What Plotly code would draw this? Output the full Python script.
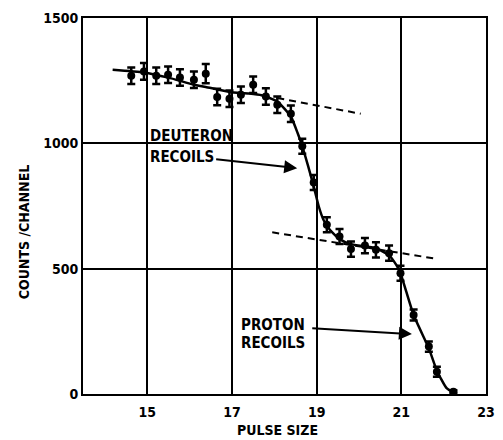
import plotly.graph_objects as go

# Measured counts per channel with statistical errors
pulse_size = [14.62, 14.92, 15.21, 15.49, 15.77, 16.10, 16.38, 16.65, 16.94, 17.21,
              17.50, 17.80, 18.07, 18.39, 18.66, 18.93, 19.24, 19.54, 19.81, 20.14,
              20.40, 20.71, 20.98, 21.29, 21.65, 21.84, 22.23]
counts = [1270, 1287, 1270, 1274, 1263, 1254, 1278, 1185, 1178, 1194,
          1234, 1187, 1154, 1118, 988, 844, 675, 628, 578, 592,
          575, 562, 482, 315, 189, 89, 9]
count_err = [33, 33, 33, 33, 33, 33, 38, 33, 33, 33,
             33, 33, 33, 33, 30, 30, 30, 30, 30, 30,
             30, 30, 30, 22, 20, 20, 6]

# Smooth hand-drawn fit through the spectrum
fit_x = [14.18, 14.92, 15.5, 16.10, 16.38, 16.94, 17.4, 17.7, 18.07, 18.39, 18.55,
         18.66, 18.80, 18.93, 19.05, 19.16, 19.31, 19.54, 19.81, 20.39, 20.70,
         20.88, 20.98, 21.29, 21.65, 21.84, 22.07, 22.26]
fit_y = [1294, 1283, 1262, 1234, 1225, 1205, 1199, 1192, 1167, 1107, 1041,
         988, 908, 828, 748, 695, 655, 618, 598, 582, 555,
         515, 482, 315, 182, 93, 23, 3]

# Extrapolated plateau levels (dashed)
deut_plateau_x = [18.07, 20.04]
deut_plateau_y = [1181, 1118]
prot_plateau_x = [17.95, 21.84]
prot_plateau_y = [645, 539]

x_ticks = [15, 17, 19, 21, 23]
y_ticks = [0, 500, 1000, 1500]

FONT = "DejaVu Sans Condensed"
INK = "black"

def bold(s):
    return f"<b>{s}</b>"

fig = go.Figure()

fig.add_trace(go.Scatter(
    x=fit_x, y=fit_y, mode="lines",
    line=dict(color=INK, width=2.5, shape="spline", smoothing=0.5),
    hoverinfo="skip", showlegend=False))

for px, py in [(deut_plateau_x, deut_plateau_y), (prot_plateau_x, prot_plateau_y)]:
    fig.add_trace(go.Scatter(
        x=px, y=py, mode="lines",
        line=dict(color=INK, width=2, dash="7px,5px"),
        hoverinfo="skip", showlegend=False))

fig.add_trace(go.Scatter(
    x=pulse_size, y=counts, mode="markers",
    marker=dict(color=INK, size=8, symbol="circle"),
    error_y=dict(type="data", array=count_err, color=INK, thickness=2.5, width=4),
    showlegend=False))

# Labels with arrows
label_font = dict(family=FONT, size=15, color=INK)
fig.add_annotation(x=15.02, y=1029, text=bold("DEUTERON"), showarrow=False,
                   xanchor="left", yanchor="middle", font=label_font)
fig.add_annotation(x=15.02, y=945, text=bold("RECOILS"), showarrow=False,
                   xanchor="left", yanchor="middle", font=label_font)
fig.add_annotation(x=18.54, y=901, ax=16.59, ay=937, axref="x", ayref="y",
                   text="", showarrow=True, arrowhead=2, arrowsize=1.3,
                   arrowwidth=2, arrowcolor=INK)

fig.add_annotation(x=17.16, y=275, text=bold("PROTON"), showarrow=False,
                   xanchor="left", yanchor="middle", font=label_font)
fig.add_annotation(x=17.16, y=203, text=bold("RECOILS"), showarrow=False,
                   xanchor="left", yanchor="middle", font=label_font)
fig.add_annotation(x=21.25, y=239, ax=18.86, ay=263, axref="x", ayref="y",
                   text="", showarrow=True, arrowhead=2, arrowsize=1.3,
                   arrowwidth=2, arrowcolor=INK)

# Axis titles
title_font = dict(family=FONT, size=14, color=INK)
fig.add_annotation(xref="paper", yref="paper", x=(282 - 83) / 412, y=-36 / 376,
                   text=bold("PULSE SIZE"), showarrow=False, yanchor="middle",
                   font=title_font)
fig.add_annotation(xref="paper", yref="paper", x=-60 / 412, y=(394 - 232) / 376,
                   text=bold("COUNTS /CHANNEL"), textangle=-90, showarrow=False,
                   xanchor="center", yanchor="middle", font=title_font)

tick_font = dict(family=FONT, size=14, color=INK)
fig.update_xaxes(range=[13.48, 23], tickvals=x_ticks, ticktext=[bold(v) for v in x_ticks],
                 showgrid=True, gridcolor=INK, gridwidth=1.5,
                 showline=True, linecolor=INK, linewidth=2, mirror=True,
                 ticks="", zeroline=False, ticklabelstandoff=4, tickfont=tick_font)
fig.update_yaxes(range=[0, 1500], tickvals=y_ticks, ticktext=[bold(v) for v in y_ticks],
                 showgrid=True, gridcolor=INK, gridwidth=1.5,
                 showline=True, linecolor=INK, linewidth=2, mirror=True,
                 ticks="", zeroline=False, tickfont=tick_font)

fig.update_layout(width=503, height=440,
                  margin=dict(l=83, r=8, t=18, b=46),
                  paper_bgcolor="white", plot_bgcolor="white")

fig.write_html("out.html")
